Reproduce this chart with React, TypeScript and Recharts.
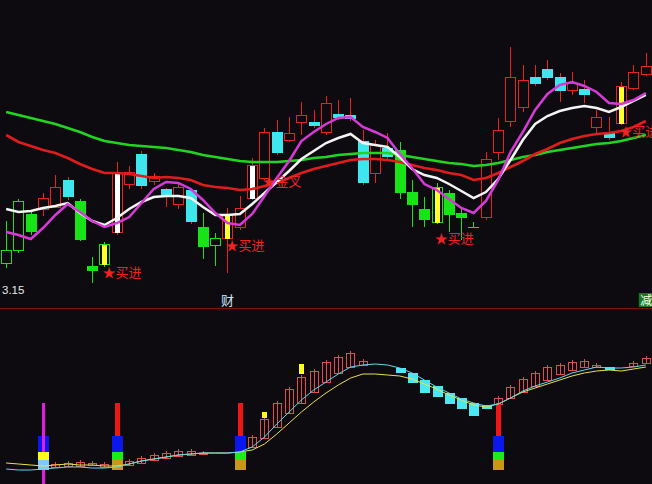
import React from "react";
import { ComposedChart, Bar, Line, XAxis, YAxis } from "recharts";

document.body.style.margin = "0";
document.body.style.background = "#0d0b10";

// ---- price panel (yuan) ----
const OPEN = [
  3.35, 3.48, 3.84, 3.89, 3.91, 4.18, 3.97, 3.32, 3.34, 3.66,
  4.14, 4.44, 4.17, 4.09, 3.94, 4.08, 3.71, 3.53, 3.6, 3.71,
  4.0, 4.2, 4.66, 4.58, 4.76, 4.76, 4.66, 4.84, 4.83, 4.57,
  4.25, 4.5, 4.48, 4.06, 3.89, 3.76, 4.05, 3.85, 3.71, 3.81,
  4.46, 4.77, 4.91, 5.21, 5.29, 5.21, 5.08, 5.09, 4.71, 4.65,
  4.75, 5.1, 5.24,
];
const CLOSE = [
  3.48, 3.97, 3.66, 4.0, 4.11, 4.01, 3.58, 3.27, 3.54, 4.25,
  4.26, 4.12, 4.22, 4.03, 4.11, 3.76, 3.51, 3.6, 3.83, 3.9,
  4.33, 4.66, 4.45, 4.65, 4.83, 4.72, 4.95, 4.8, 4.79, 4.15,
  4.53, 4.41, 4.05, 3.93, 3.78, 4.11, 3.83, 3.8, 3.71, 4.39,
  4.68, 5.21, 5.18, 5.14, 5.2, 5.07, 5.15, 5.03, 4.81, 4.6,
  5.12, 5.26, 5.32,
];
const HIGH = [
  3.77, 3.99, 3.87, 4.05, 4.23, 4.21, 3.99, 3.41, 3.56, 4.36,
  4.32, 4.47, 4.25, 4.1, 4.15, 4.1, 3.85, 3.65, 3.9, 4.02,
  4.4, 4.7, 4.78, 4.81, 4.96, 4.88, 5.02, 4.98, 5.0, 4.68,
  4.58, 4.65, 4.56, 4.18, 4.01, 4.15, 4.08, 3.91, 3.76, 4.46,
  4.8, 5.51, 5.33, 5.33, 5.38, 5.25, 5.26, 5.18, 4.88, 4.81,
  5.16, 5.33, 5.45,
];
const LOW = [
  3.3, 3.45, 3.63, 3.82, 3.9, 3.98, 3.57, 3.15, 3.31, 3.63,
  4.09, 4.09, 4.13, 3.91, 3.89, 3.74, 3.39, 3.32, 3.25, 3.68,
  3.98, 4.18, 4.43, 4.56, 4.63, 4.7, 4.63, 4.78, 4.77, 4.13,
  4.15, 4.38, 3.99, 3.71, 3.71, 3.74, 3.66, 3.58, 3.7, 3.78,
  4.38, 4.71, 4.86, 5.12, 5.18, 4.96, 5.03, 4.95, 4.64, 4.58,
  4.73, 5.08, 5.22,
];
// r = red hollow, g = green hollow, G = green solid, c = cyan solid
const TONE = "ggGrrcGGgrrcrcrcGgrrrrcrrcrcccrcGGGgGGgrrrrcccrcrcrrr".split("");
const YELLOW_BARS = [8, 18, 35, 50];
const WHITE_BARS = [9, 20];

const MA_LONG = [
  4.86, 4.83, 4.8, 4.77, 4.74, 4.7, 4.66, 4.61, 4.57, 4.55,
  4.53, 4.52, 4.51, 4.5, 4.48, 4.46, 4.43, 4.41, 4.39, 4.37,
  4.36, 4.36, 4.36, 4.37, 4.38, 4.4, 4.41, 4.43, 4.44, 4.45,
  4.45, 4.45, 4.43, 4.41, 4.39, 4.37, 4.35, 4.34, 4.32, 4.33,
  4.35, 4.38, 4.41, 4.43, 4.46, 4.48, 4.5, 4.52, 4.54, 4.55,
  4.57, 4.6, 4.63,
];
const MA_MID = [
  4.63, 4.56, 4.52, 4.48, 4.45, 4.4, 4.34, 4.29, 4.25, 4.25,
  4.24, 4.22, 4.2, 4.21, 4.2, 4.18, 4.13, 4.11, 4.1, 4.08,
  4.09, 4.12, 4.15, 4.2, 4.25, 4.29, 4.32, 4.35, 4.38, 4.39,
  4.39, 4.38, 4.36, 4.33, 4.3, 4.28, 4.25, 4.23, 4.18, 4.2,
  4.25, 4.31, 4.37, 4.44, 4.49, 4.55, 4.59, 4.62, 4.64, 4.65,
  4.67, 4.71, 4.77,
];
const MA_SHORT = [
  3.89, 3.86, 3.87, 3.9, 3.92, 3.95, 3.85, 3.77, 3.73, 3.8,
  3.89, 3.96, 4.01, 4.02, 4.02, 4.0, 3.91, 3.83, 3.83, 3.84,
  3.94, 4.05, 4.16, 4.27, 4.39, 4.47, 4.55, 4.6, 4.64, 4.55,
  4.53, 4.51, 4.41, 4.29, 4.23, 4.2, 4.14, 4.07, 4.0, 4.06,
  4.19, 4.38, 4.58, 4.74, 4.82, 4.87, 4.9, 4.92, 4.9, 4.86,
  4.91, 4.97, 5.03,
];
const MA_FAST = [
  3.66, 3.63, 3.59, 3.7, 3.83, 3.94, 3.86, 3.77, 3.71, 3.75,
  3.81, 3.95, 4.09, 4.16, 4.15, 4.09, 3.98, 3.85, 3.75, 3.73,
  3.84, 4.02, 4.2, 4.37, 4.57, 4.66, 4.74, 4.8, 4.81, 4.71,
  4.66, 4.6, 4.44, 4.3, 4.14, 4.08, 3.99, 3.9, 3.85, 3.97,
  4.18, 4.46, 4.66, 4.88, 5.04, 5.13, 5.16, 5.12, 5.06, 4.95,
  4.94, 4.98, 5.05,
];

const BUY_INDEX = [8, 18, 35, 50];
const BUY_PRICE = [3.27, 3.54, 3.61, 4.68];
const CROSS_INDEX = 21;
const CROSS_PRICE = 4.18;

const EVENT_INDEX = [18, 52];
const EVENT_TEXT = ["财", "减"];

// ---- indicator panel ----
const IND_OPEN = [
  null, null, null, null, 17, 18, 18, 19, 17, null,
  19, 21, 24, 26, 28, 29, 30, null, null, null,
  37, 46, 57, 71, 81, 92, 102, 111, 117, 119,
  null, null, 116, 111, 104, 98, 91, 86, 81, 79,
  80, 86, 92, 98, 104, 110, 114, 117, 117, 117,
  null, 118, 121,
];
const IND_CLOSE = [
  null, null, null, null, 20, 21, 22, 21, 20, null,
  23, 26, 29, 31, 33, 33, 31, null, null, null,
  47, 65, 81, 95, 107, 113, 122, 127, 131, 123,
  null, null, 111, 101, 91, 87, 80, 75, 68, 75,
  86, 97, 105, 111, 117, 119, 122, 123, 119, 114,
  null, 121, 126,
];
const IND_HIGH = [
  null, null, null, null, 22, 23, 24, 23, 22, null,
  25, 28, 31, 33, 35, 35, 33, null, null, null,
  49, 67, 83, 97, 109, 115, 124, 129, 133, 125,
  null, null, 116, 111, 104, 98, 91, 86, 81, 79,
  88, 99, 107, 113, 119, 121, 124, 125, 121, 117,
  null, 123, 128,
];
const IND_LOW = [
  null, null, null, null, 17, 18, 18, 19, 17, null,
  19, 21, 24, 26, 28, 29, 30, null, null, null,
  37, 46, 57, 71, 81, 92, 102, 111, 117, 119,
  null, null, 111, 101, 91, 87, 80, 75, 68, 75,
  80, 86, 92, 98, 104, 110, 114, 117, 117, 114,
  null, 118, 121,
];
const IND_FAST = [
  15, 14, 14, 15, 16, 17, 17, 16, 16, 17,
  20, 23, 25, 27, 29, 30, 31, 31, 31, 32,
  37, 47, 60, 72, 84, 94, 102, 110, 117, 119,
  120, 119, 116, 111, 104, 97, 91, 85, 81, 78,
  80, 86, 93, 98, 102, 106, 111, 114, 117, 116,
  116, 117, 119,
];
const IND_SLOW = [
  21, 20, 19, 18, 19, 20, 19, 19, 18, 18,
  20, 23, 25, 27, 29, 30, 31, 31, 31, 32,
  34, 40, 50, 61, 72, 82, 91, 99, 106, 110,
  110, 109, 108, 105, 100, 95, 89, 84, 79, 77,
  80, 86, 92, 96, 100, 104, 108, 111, 113, 114,
  113, 115, 117,
];
const ALERT_INDEX = [21, 24];
const ALERT_LOW = [66, 110];
const ALERT_HIGH = [72, 120];
const SIGNAL_INDEX = [3, 9, 19, 40];
const SIGNAL_KIND = ["A", "B", "B", "B"];
const SIGNAL_LEVELS = [14, 24, 32, 48, 81];

const BG = "#0d0b10";
const RED = "#e8221e";
const GREEN = "#16e416";
const CYAN = "#3ee6ee";
const YELLOW = "#ffff2a";

const rows = OPEN.map((open, i) => {
  const b = BUY_INDEX.indexOf(i);
  const isCross = i === CROSS_INDEX;
  return {
    i,
    open,
    close: CLOSE[i],
    high: HIGH[i],
    low: LOW[i],
    tone: TONE[i],
    fillMark: YELLOW_BARS.includes(i) ? "y" : WHITE_BARS.includes(i) ? "w" : "",
    maLong: MA_LONG[i],
    maMid: MA_MID[i],
    maShort: MA_SHORT[i],
    maFast: MA_FAST[i],
    tag: b >= 0 ? BUY_PRICE[b] : isCross ? CROSS_PRICE : null,
    tagText: b >= 0 ? "★买进" : isCross ? "★金叉" : "",
  };
});

const subRows = IND_FAST.map((fast, i) => {
  const a = ALERT_INDEX.indexOf(i);
  const s = SIGNAL_INDEX.indexOf(i);
  const kind = s >= 0 ? SIGNAL_KIND[s] : null;
  return {
    i,
    fast,
    slow: IND_SLOW[i],
    bOpen: IND_OPEN[i],
    bClose: IND_CLOSE[i],
    bHigh: IND_HIGH[i],
    bLow: IND_LOW[i],
    alertLow: a >= 0 ? ALERT_LOW[a] : null,
    alertHigh: a >= 0 ? ALERT_HIGH[a] : null,
    kind,
    sigLow: kind === "A" ? 0 : kind ? SIGNAL_LEVELS[0] : null,
    sigHigh: kind ? SIGNAL_LEVELS[4] : null,
  };
});

// maps a value inside [lo, hi] onto the bar's pixel span
function spanMapper(y: number, height: number, lo: number, hi: number) {
  const top = Math.min(y, y + height);
  const span = Math.abs(height);
  return (v: number) => Math.round(top + (hi === lo ? 0 : ((hi - v) / (hi - lo)) * span));
}

function PriceCandle(props: any) {
  const { x, y, width, height, payload } = props;
  if (!payload || payload.high == null || !isFinite(y)) return <g />;
  const { open, close, high, low, tone, fillMark } = payload;
  const at = spanMapper(y, height, low, high);
  const left = Math.round(x);
  const mid = left + 5.5;
  const t = at(Math.max(open, close));
  const b = at(Math.min(open, close));
  const hy = at(high);
  const ly = at(low);
  const green = tone === "g" || tone === "G";
  const wick = green ? GREEN : RED;
  const outline = green ? GREEN : RED;

  if (tone === "r" || tone === "g") {
    return (
      <g>
        <line x1={mid} x2={mid} y1={hy} y2={t} stroke={wick} />
        <line x1={mid} x2={mid} y1={b} y2={ly} stroke={wick} />
        {b - t < 1 ? (
          <line x1={left} x2={left + 11} y1={t + 0.5} y2={t + 0.5} stroke={outline} />
        ) : (
          <rect x={left + 0.5} y={t + 0.5} width={10} height={b - t} fill="none" stroke={outline} />
        )}
        {fillMark && b - t > 1 && (
          <rect x={left + 3} y={t + 1} width={5} height={b - t} fill={fillMark === "y" ? YELLOW : "#ffffff"} />
        )}
      </g>
    );
  }
  return (
    <g>
      <line x1={mid} x2={mid} y1={hy} y2={ly} stroke={wick} />
      <rect x={left} y={t} width={11} height={Math.max(1, b - t)} fill={tone === "c" ? CYAN : GREEN} />
    </g>
  );
}

function IndicatorBox(props: any) {
  const { x, y, width, height, payload } = props;
  if (!payload || payload.bOpen == null || !isFinite(y)) return <g />;
  const { bOpen, bClose, bHigh, bLow } = payload;
  const at = spanMapper(y, height, bLow, bHigh);
  const left = Math.round(x);
  const mid = left + 5.5;
  const t = at(Math.max(bOpen, bClose));
  const b = at(Math.min(bOpen, bClose));
  if (bClose >= bOpen) {
    return (
      <g>
        <line x1={mid} x2={mid} y1={at(bHigh)} y2={b} stroke="#e24c4c" />
        <rect x={left + 1.5} y={t + 0.5} width={8} height={Math.max(1, b - t)} fill="none" stroke="#e24c4c" />
      </g>
    );
  }
  return <rect x={left + 1} y={t} width={10} height={Math.max(1, b - t)} fill="#4ae8f2" />;
}

function AlertMark(props: any) {
  const { x, y, height, payload } = props;
  if (!payload || payload.alertLow == null || !isFinite(y)) return <g />;
  const top = Math.round(Math.min(y, y + height));
  return <rect x={Math.round(x) + 3} y={top} width={5} height={Math.round(Math.abs(height))} fill="#ffff20" />;
}

function SignalStack(props: any) {
  const { x, y, height, payload } = props;
  if (!payload || !payload.kind || !isFinite(y)) return <g />;
  const at = spanMapper(y, height, payload.sigLow, payload.sigHigh);
  const left = Math.round(x);
  const [l0, l1, l2, l3, l4] = SIGNAL_LEVELS;
  const block = (lo: number, hi: number, color: string, dx = 0, w = 11) => (
    <rect x={left + dx} y={at(hi)} width={w} height={at(lo) - at(hi)} fill={color} />
  );
  if (payload.kind === "A") {
    return (
      <g>
        {block(l2, l3, "#0a18ee")}
        {block(payload.sigLow, l4, "#e21ce2", 4, 3)}
        {block(l1, l2, "#ffff14")}
        {block(l0, l1, "#80c8f6")}
      </g>
    );
  }
  return (
    <g>
      {block(l3, l4, "#f01616", 3, 5)}
      {block(l2, l3, "#0a18ee")}
      {block(l1, l2, "#18ee18")}
      {block(l0, l1, "#c8961c")}
    </g>
  );
}

function EventTick(props: any) {
  const { x, y, payload } = props;
  const k = EVENT_INDEX.indexOf(Number(payload?.value));
  if (k < 0) return <g />;
  const text = EVENT_TEXT[k];
  if (text === "减") {
    return (
      <g>
        <rect x={x - 7} y={y + 1} width={15} height={14} fill="#177a17" />
        <text x={x + 0.5} y={y + 12.5} textAnchor="middle" fill="#ffffff" fontSize={12} fontFamily="Noto Sans CJK SC">
          {text}
        </text>
      </g>
    );
  }
  return (
    <text x={x} y={y + 13} textAnchor="middle" fill="#cfe6ff" fontSize={13} fontFamily="Noto Sans CJK SC">
      {text}
    </text>
  );
}

function TagDot(props: any) {
  const { cx, cy, payload, index } = props;
  if (!payload || !payload.tagText || cy == null) return <g key={`tag-${index}`} />;
  return (
    <text
      key={`tag-${index}`}
      x={cx - 2}
      y={cy}
      dominantBaseline="central"
      fill="#f02222"
      fontSize={13}
      fontFamily="Noto Sans CJK SC"
    >
      {payload.tagText}
    </text>
  );
}

export default function App() {
  const lowest = Math.min(...LOW).toFixed(2);
  return (
    <div style={{ position: "relative", width: 652, height: 484, background: BG, overflow: "hidden" }}>
      <ComposedChart width={652} height={308} data={rows} margin={{ top: 0, right: 0, bottom: 0, left: 0 }}>
        <XAxis
          dataKey="i"
          height={16}
          axisLine={false}
          tickLine={false}
          tickSize={0}
          tickMargin={0}
          interval={0}
          tick={(p: any) => <EventTick {...p} />}
        />
        <YAxis hide domain={[3.06, 5.98]} allowDataOverflow />
        <Line dataKey="tag" stroke="none" dot={TagDot} activeDot={false} isAnimationActive={false} />
        <Line dataKey="maLong" stroke="#22d422" strokeWidth={2.6} dot={false} activeDot={false} isAnimationActive={false} />
        <Line dataKey="maMid" stroke="#e01c1c" strokeWidth={2.6} dot={false} activeDot={false} isAnimationActive={false} />
        <Line dataKey="maShort" stroke="#f4f4f4" strokeWidth={2.5} dot={false} activeDot={false} isAnimationActive={false} />
        <Line dataKey="maFast" stroke="#d83ad8" strokeWidth={2.5} dot={false} activeDot={false} isAnimationActive={false} />
        <Bar
          dataKey={(d: any) => [d.low, d.high]}
          barSize={11}
          shape={(p: any) => <PriceCandle {...p} />}
          isAnimationActive={false}
        />
      </ComposedChart>
      <div style={{ height: 1, background: "#7d1010" }} />
      <ComposedChart
        width={652}
        height={175}
        data={subRows}
        margin={{ top: 0, right: 0, bottom: 0, left: 0 }}
        barGap={-11}
      >
        <XAxis dataKey="i" hide />
        <YAxis hide domain={[0, 175]} allowDataOverflow />
        <Bar
          dataKey={(d: any) => (d.bOpen == null ? null : [d.bLow, d.bHigh])}
          barSize={11}
          shape={(p: any) => <IndicatorBox {...p} />}
          isAnimationActive={false}
        />
        <Bar
          dataKey={(d: any) => (d.alertLow == null ? null : [d.alertLow, d.alertHigh])}
          barSize={11}
          shape={(p: any) => <AlertMark {...p} />}
          isAnimationActive={false}
        />
        <Line dataKey="slow" stroke="#e8e24a" strokeWidth={1} dot={false} activeDot={false} isAnimationActive={false} />
        <Line dataKey="fast" stroke="#62d8ea" strokeWidth={1} dot={false} activeDot={false} isAnimationActive={false} />
        <Bar
          dataKey={(d: any) => (d.kind == null ? null : [d.sigLow, d.sigHigh])}
          barSize={11}
          shape={(p: any) => <SignalStack {...p} />}
          isAnimationActive={false}
        />
      </ComposedChart>
      <div
        style={{
          position: "absolute",
          left: 2,
          top: 284,
          color: "#e8e8e8",
          fontFamily: "Liberation Sans, Arial, sans-serif",
          fontSize: 11.5,
          lineHeight: "12px",
        }}
      >
        {lowest}
      </div>
    </div>
  );
}
